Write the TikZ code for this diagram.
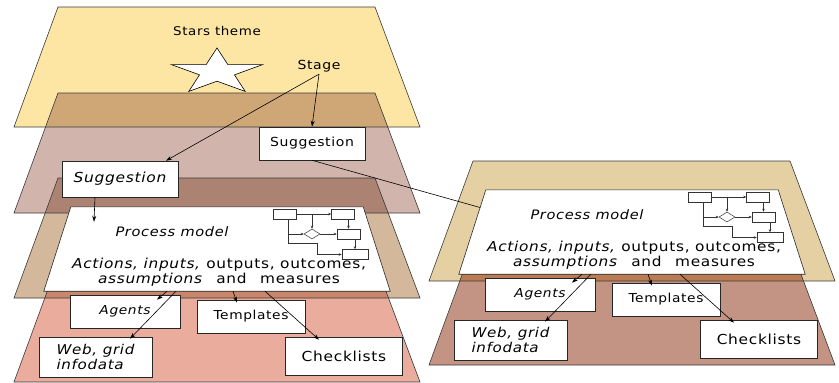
\documentclass[tikz,border=0pt]{standalone}
\usepackage{fontspec}
\setmainfont{DejaVu Sans}[LetterSpace=5, FakeStretch=1.12]
\usetikzlibrary{calc,arrows.meta,shapes.geometric}

\definecolor{starsfill}{HTML}{FDE6A4}
\definecolor{stagefill}{HTML}{D1B5AD}
\definecolor{stageover}{HTML}{CFA675}
\definecolor{procfill}{HTML}{D3B89C}
\definecolor{procover}{HTML}{AC8372}
\definecolor{resfill}{HTML}{EAAC9D}
\definecolor{resover}{HTML}{C8866A}
\definecolor{rprocfill}{HTML}{E4D0A2}
\definecolor{rresfill}{HTML}{C39383}
\definecolor{rresover}{HTML}{B97C54}
\definecolor{edgegray}{HTML}{3A3A3A}

% one layer, top edge at y = #1
\newcommand\layerpath[1]{(58,#1) -- (375,#1) -- (420,#1+120) -- (14,#1+120) -- cycle}
\newcommand\fs[1]{\fontsize{#1}{#1}\selectfont}

% process model card with its flowchart and the four resource boxes
\newcommand\modelcard{%
	\node[cardframe] (card) at (217,249) {};
	\draw[cardline] ([xshift=27pt]card.north west) -- ([xshift=-27pt]card.north east)
		-- (card.south east) -- (card.south west) -- cycle;
	
	\node[fcbox] (fa) at (284.5,214) {};
	\node[fcbox] (fb) at (343,214) {};
	\node[fcbox] (fc) at (348.5,234) {};
	\node[fcbox, minimum width=26pt] (fd) at (355,254.5) {};
	\node[fcdia] (fdia) at (312,234) {};
	\coordinate (fbus) at ([xshift=4pt]fa.south);
	\draw[fcarr] (fa) -- (fb);
	\draw[fcarr] (fdia.north |- fa.east) -- (fdia.north);
	\draw[fcarr] (fbus) -- ++(0,24) -- ++(29,0) |- (fd.west);
	\draw[fcarr] (fbus |- fdia.west) -- (fdia.west);
	\draw[fcarr] (fdia.east) -- (fc.west);
	\draw[fcarr] (fc.north |- fb.south) -- (fc.north);
	\draw[fcarr] (fd.north |- fc.south) -- (fd.north);
	
	\node[lbl, font=\fs{13}\itshape] (pm) at (172,232) {Process model};
	\node[lbl, align=center, font=\fs{13.7}] (aim) at (219,272)
		{\textit{Actions, inputs,} outputs, outcomes,\\[1pt]\textit{assumptions}\hspace{8pt} and\hspace{8pt} measures};
	
	\node[box, minimum width=110pt, minimum height=33pt, font=\fs{12.3}\itshape] (agents) at (125,311.5) {Agents};
	\node[box, minimum width=108pt, minimum height=33pt, font=\fs{12.3}] (templates) at (251,316.5) {Templates};
	\node[box, minimum width=113pt, minimum height=40pt, align=left, font=\fontsize{13.5}{15}\selectfont\itshape] (web) at (95.5,357) {Web, grid\\infodata};
	\node[box, minimum width=117pt, minimum height=38pt, font=\fs{13.8}] (checklists) at (344,356) {Checklists};
	
	\draw[arr] ([xshift=-50pt]card.south) -- ([xshift=32pt,yshift=-5pt]agents.north);
	\draw[arr] ([xshift=-41pt]card.south) -- ([xshift=34.5pt,yshift=-2pt]web.north);
	\draw[arr] ([xshift=16pt]card.south) -- ([xshift=-14pt,yshift=-3pt]templates.north);
	\draw[arr] ([xshift=48pt]card.south) -- ([xshift=-25pt,yshift=-3pt]checklists.north);
}

\begin{document}
\begin{tikzpicture}[x=1pt, y=-1pt,
	edge/.style={draw=edgegray, line width=0.6pt},
	lbl/.style={inner sep=1pt},
	box/.style={draw=black!85, fill=white, line width=0.6pt, inner sep=1pt},
	cardframe/.style={minimum width=346pt, minimum height=84pt, inner sep=0pt},
	cardline/.style={draw=black!85, fill=white, line width=0.6pt},
	fcbox/.style={draw=black!80, fill=white, line width=0.5pt, minimum width=23pt, minimum height=10pt, inner sep=0pt},
	fcdia/.style={diamond, draw=black!80, fill=white, line width=0.5pt, minimum width=16pt, minimum height=10pt, inner sep=1pt},
	fcarr/.style={draw=black!80, line width=0.5pt, -{Stealth[length=3pt,width=2.6pt]}},
	arr/.style={draw=black, line width=0.6pt, -{Stealth[length=6pt,width=4pt]}},
	conn/.style={draw=black, line width=0.6pt}]
	%%%%% START %%%%%
	\useasboundingbox (0,0) rectangle (839,383);
	
	% left stack of layers
	\fill[starsfill] \layerpath{7};
	\fill[stagefill] \layerpath{93};
	\begin{scope}
		\clip \layerpath{7};
		\fill[stageover] \layerpath{93};
	\end{scope}
	\fill[procfill] \layerpath{178};
	\begin{scope}
		\clip \layerpath{93};
		\fill[procover] \layerpath{178};
	\end{scope}
	\fill[resfill] \layerpath{262};
	\begin{scope}
		\clip \layerpath{178};
		\fill[resover] \layerpath{262};
	\end{scope}
	\foreach \t in {7,93,178,262}
		\draw[edge] \layerpath{\t};
	
	% right stack of layers
	\begin{scope}[xshift=415pt]
		\fill[rprocfill] \layerpath{161};
		\fill[rresfill] \layerpath{245};
		\begin{scope}
			\clip \layerpath{161};
			\fill[rresover] \layerpath{245};
		\end{scope}
		\foreach \t in {161,245}
			\draw[edge] \layerpath{\t};
	\end{scope}
	
	% star
	\draw[fill=white, line width=0.6pt] plot[samples at={0,...,9}, variable=\k]
		({217+2*(mod(\k,2)==0 ? 24 : 9.2)*sin(36*\k)}, {72-(mod(\k,2)==0 ? 24 : 9.2)*cos(36*\k)}) -- cycle;
	\node[lbl, font=\fs{12}] (theme) at (217,31) {Stars theme};
	\node[lbl, inner sep=2pt, font=\fs{12.5}] (stage) at (319,66) {Stage};
	
	\node[box, font=\fs{12.5}] (sugR) at (312,143.5) [minimum width=106pt, minimum height=33pt] {Suggestion};
	\node[box, font=\fs{13.8}\itshape] (sugL) at (120,179) [minimum width=116pt, minimum height=36pt] {Suggestion};
	
	\modelcard
	
	\begin{scope}[shift={(415,-17)}, name prefix=r-]
		\modelcard
	\end{scope}
	
	\draw[arr] (stage.south) -- (sugR.north);
	\draw[arr] (stage.south) -- ([xshift=46pt]sugL.north);
	\draw[arr] ([xshift=-25pt]sugL.south) -- ([xshift=-123pt,yshift=-15pt]card.north);
	\draw[conn] (sugR.south) -- ($([xshift=27pt]r-card.north west)!0.21!(r-card.south west)$);
	
	%%%%% END %%%%%
\end{tikzpicture}
\end{document}
